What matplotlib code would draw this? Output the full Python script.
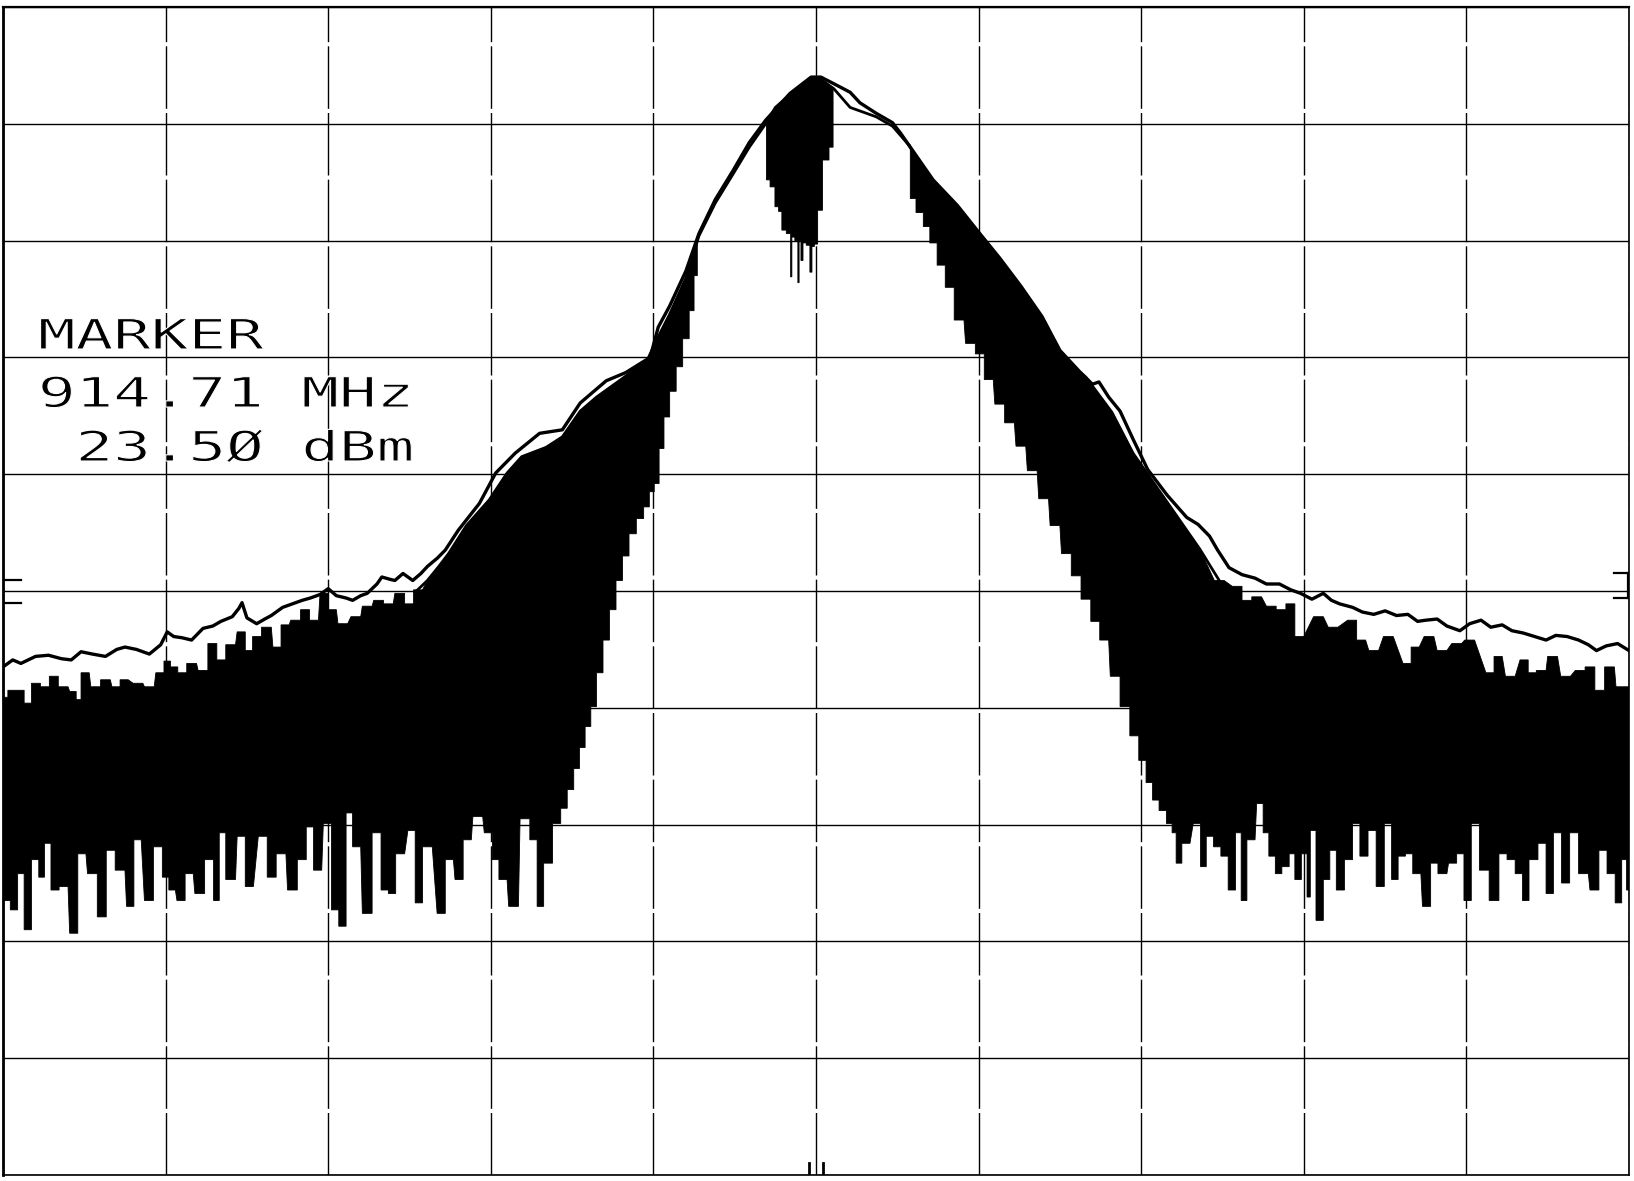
import numpy as np
import matplotlib
matplotlib.use("Agg")
import matplotlib.pyplot as plt
from matplotlib import patheffects
from matplotlib.transforms import Affine2D

# frequency axis is offset from the centre, in MHz (1 MHz / div); level in dBm (10 dB / div)
REF_LEVEL = 30
BOTTOM_LEVEL = -70
HALF_SPAN = 5

# max-hold trace
MAXHOLD_F = [-5.00, -4.94, -4.89, -4.80, -4.72, -4.64, -4.58, -4.52, -4.45, -4.37,
             -4.30, -4.25, -4.18, -4.10, -4.03, -3.99, -3.95, -3.90, -3.84, -3.77,
             -3.71, -3.66, -3.59, -3.55, -3.53, -3.50, -3.44, -3.39, -3.35, -3.28,
             -3.22, -3.16, -3.11, -3.05, -3.00, -2.95, -2.89, -2.85, -2.80, -2.76,
             -2.70, -2.67, -2.62, -2.59, -2.54, -2.48, -2.43, -2.39, -2.33, -2.28,
             -2.20, -2.07, -1.97, -1.85, -1.70, -1.56, -1.45, -1.29, -1.17, -1.02,
             -0.97, -0.90, -0.80, -0.72, -0.62, -0.51, -0.41, -0.31, -0.16, -0.03,
             0.03, 0.10, 0.21, 0.27, 0.37, 0.47, 0.52, 0.57, 0.72, 0.87,
             0.99, 1.13, 1.26, 1.39, 1.50, 1.62, 1.70, 1.74, 1.80, 1.87,
             1.95, 2.04, 2.16, 2.28, 2.35, 2.42, 2.47, 2.54, 2.62, 2.70,
             2.77, 2.85, 2.92, 2.98, 3.05, 3.12, 3.17, 3.22, 3.30, 3.36,
             3.43, 3.50, 3.57, 3.64, 3.70, 3.75, 3.82, 3.88, 3.96, 4.02,
             4.09, 4.15, 4.22, 4.28, 4.35, 4.42, 4.49, 4.55, 4.62, 4.69,
             4.75, 4.80, 4.86, 4.93, 5.00]
MAXHOLD_DBM = [-26.5, -25.9, -26.2, -25.6, -25.5, -25.8, -25.9, -25.2, -25.4, -25.6,
               -25.0, -24.8, -25.0, -25.4, -24.6, -23.5, -23.9, -24.0, -24.2, -23.2,
               -23.0, -22.6, -22.2, -21.5, -21.0, -22.3, -22.8, -22.4, -22.1, -21.4,
               -21.1, -20.8, -20.6, -20.3, -19.8, -20.4, -20.6, -20.8, -20.4, -20.2,
               -19.4, -18.8, -19.0, -19.1, -18.5, -19.1, -18.5, -17.9, -17.2, -16.5,
               -14.8, -12.5, -9.9, -8.2, -6.5, -6.2, -3.9, -2.0, -1.3, 0.0,
               2.6, 4.4, 7.4, 10.6, 13.5, 16.0, 18.4, 20.3, 22.6, 24.0,
               24.0, 23.5, 22.7, 21.8, 20.9, 20.1, 19.2, 18.2, 15.2, 13.0,
               10.9, 8.5, 6.1, 3.5, 0.6, -1.2, -2.3, -2.1, -3.4, -4.6,
               -7.0, -9.6, -11.8, -13.7, -14.3, -15.3, -16.5, -18.0, -18.6, -18.9,
               -19.4, -19.4, -19.9, -20.2, -20.7, -20.2, -20.8, -21.1, -21.4, -21.8,
               -22.0, -21.7, -22.1, -22.0, -22.6, -22.5, -22.4, -23.0, -23.4, -22.8,
               -22.5, -23.1, -22.9, -23.4, -23.6, -23.9, -24.2, -23.8, -23.9, -24.2,
               -24.6, -25.1, -24.7, -24.5, -25.1]

# upper edge of the swept (filled) trace
SWEEP_TOP_F = [-5.00, -4.94, -4.89, -4.85, -4.80, -4.74, -4.69, -4.63, -4.56, -4.54,
               -4.50, -4.43, -4.37, -4.30, -4.26, -4.17, -4.10, -4.03, -3.99, -3.95,
               -3.90, -3.84, -3.77, -3.71, -3.66, -3.60, -3.53, -3.49, -3.44, -3.38,
               -3.31, -3.27, -3.20, -3.14, -3.09, -3.02, -2.98, -2.91, -2.83, -2.76,
               -2.69, -2.63, -2.56, -2.50, -2.45, -2.39, -2.32, -2.26, -2.15, -2.01,
               -1.90, -1.81, -1.66, -1.56, -1.45, -1.35, -1.21, -1.04, -0.98, -0.90,
               -0.80, -0.72, -0.62, -0.51, -0.41, -0.305, -0.25, -0.16, -0.08, -0.03,
               0.03, 0.08, 0.11, 0.21, 0.27, 0.37, 0.47, 0.57, 0.72, 0.87,
               0.99, 1.13, 1.26, 1.39, 1.50, 1.58, 1.66, 1.82, 1.95, 2.11,
               2.28, 2.36, 2.48, 2.59, 2.65, 2.71, 2.80, 2.86, 2.92, 2.97,
               3.09, 3.18, 3.30, 3.35, 3.43, 3.52, 3.64, 3.68, 3.77, 3.85,
               3.94, 4.02, 4.15, 4.19, 4.27, 4.36, 4.40, 4.46, 4.53, 4.61,
               4.70, 4.76, 4.82, 4.88, 4.95, 5.00]
SWEEP_TOP_DBM = [-29.1, -28.5, -28.5, -29.6, -27.9, -28.2, -27.3, -28.2, -28.6, -29.3,
                 -27.0, -28.2, -27.6, -28.2, -27.6, -27.9, -28.2, -27.0, -26.0, -26.5,
                 -27.0, -26.2, -26.8, -24.5, -25.9, -24.6, -23.5, -25.1, -23.9, -23.1,
                 -24.8, -22.9, -22.5, -21.6, -22.5, -20.2, -21.6, -22.8, -22.2, -21.3,
                 -20.8, -21.1, -20.2, -21.1, -19.9, -19.1, -17.9, -16.8, -14.4, -12.2,
                 -9.9, -8.5, -7.7, -6.8, -4.6, -3.4, -2.0, -0.3, 1.5, 3.7,
                 6.8, 10.4, 13.2, 15.7, 18.0, 20.1, 21.4, 22.5, 23.4, 23.8,
                 23.8, 23.3, 23.0, 21.4, 21.1, 20.6, 19.8, 18.2, 15.0, 12.8,
                 10.7, 8.3, 5.9, 3.3, 0.4, -0.8, -1.7, -4.7, -8.2, -11.4,
                 -14.8, -16.4, -19.1, -19.6, -20.8, -20.5, -21.3, -21.6, -21.1, -23.9,
                 -22.2, -23.1, -22.5, -24.2, -25.1, -23.9, -26.2, -24.8, -23.9, -25.1,
                 -24.5, -24.2, -27.0, -25.6, -27.3, -25.9, -27.0, -26.8, -25.6, -27.3,
                 -26.8, -26.5, -28.5, -26.5, -28.2, -28.2]

# lower edge of the swept trace, left skirt
LEFT_FLOOR_F = [-5.00, -4.98, -4.93, -4.89, -4.85, -4.80, -4.76, -4.73, -4.68, -4.63,
                -4.56, -4.52, -4.45, -4.39, -4.34, -4.28, -4.21, -4.18, -4.10, -4.05,
                -3.99, -3.97, -3.90, -3.86, -3.79, -3.73, -3.68, -3.66, -3.60, -3.53,
                -3.49, -3.40, -3.35, -3.29, -3.22, -3.16, -3.11, -3.07, -3.00, -2.96,
                -2.91, -2.87, -2.83, -2.76, -2.70, -2.65, -2.61, -2.56, -2.48, -2.45,
                -2.39, -2.30, -2.26, -2.19, -2.15, -2.08, -2.01, -1.97, -1.93, -1.86,
                -1.79, -1.73, -1.70, -1.65, -1.59, -1.55, -1.51, -1.47, -1.44, -1.40,
                -1.37, -1.33, -1.29, -1.25, -1.21, -1.17, -1.13, -1.08, -1.04, -1.01,
                -0.98, -0.95, -0.92, -0.88, -0.84, -0.80, -0.76, -0.74, -0.72]
LEFT_FLOOR_DBM = [-43.6, -46.5, -47.3, -44.2, -49.0, -43.0, -44.5, -41.6, -45.6, -45.3,
                  -49.3, -42.5, -44.2, -47.9, -42.2, -43.9, -47.0, -41.3, -46.5, -41.9,
                  -44.5, -45.6, -46.5, -44.2, -45.9, -43.0, -46.5, -40.7, -44.7, -41.0,
                  -45.3, -41.0, -44.5, -42.5, -45.6, -43.0, -40.2, -43.9, -39.9, -47.3,
                  -48.7, -39.0, -41.9, -47.6, -40.7, -45.6, -45.9, -42.5, -40.5, -46.7,
                  -41.9, -47.6, -43.0, -44.7, -41.3, -39.3, -40.7, -43.0, -44.7, -47.0,
                  -39.5, -41.3, -47.0, -43.3, -39.9, -38.6, -37.0, -35.2, -33.4, -31.6,
                  -29.9, -27.0, -24.2, -21.6, -19.1, -17.0, -15.1, -13.8, -12.8, -11.5,
                  -10.8, -7.8, -5.1, -2.9, -0.8, 1.6, 4.0, 7.0, 10.4]

# lower edge of the narrow block under the carrier
CENTRE_FLOOR_F = [-0.305, -0.305, -0.26, -0.245, -0.215, -0.205, -0.16, -0.152, -0.145, -0.115,
                  -0.108, -0.100, -0.085, -0.075, -0.045, -0.030, -0.020, 0.0, 0.02, 0.06,
                  0.10, 0.11]
CENTRE_FLOOR_DBM = [20.1, 15.2, 14.6, 12.9, 12.5, 10.9, 10.6, 6.9, 10.3, 10.0,
                    6.4, 10.0, 8.3, 9.8, 9.6, 7.3, 9.5, 9.7, 12.6, 16.9,
                    18.0, 23.0]

# lower edge of the swept trace, right skirt
RIGHT_FLOOR_F = [0.57, 0.59, 0.64, 0.68, 0.72, 0.77, 0.82, 0.88, 0.95, 1.01,
                 1.06, 1.13, 1.19, 1.26, 1.33, 1.40, 1.47, 1.54, 1.60, 1.66,
                 1.72, 1.77, 1.84, 1.90, 1.96, 2.01, 2.05, 2.09, 2.13, 2.18,
                 2.20, 2.23, 2.27, 2.35, 2.38, 2.42, 2.47, 2.51, 2.56, 2.60,
                 2.63, 2.67, 2.74, 2.76, 2.81, 2.84, 2.89, 2.93, 2.96, 3.01,
                 3.03, 3.05, 3.10, 3.14, 3.18, 3.22, 3.28, 3.32, 3.37, 3.42,
                 3.47, 3.52, 3.56, 3.60, 3.65, 3.69, 3.76, 3.80, 3.85, 3.92,
                 3.96, 4.01, 4.05, 4.11, 4.17, 4.23, 4.27, 4.33, 4.36, 4.41,
                 4.47, 4.51, 4.56, 4.61, 4.66, 4.72, 4.79, 4.84, 4.89, 4.94,
                 4.97, 5.00]
RIGHT_FLOOR_DBM = [18.2, 13.6, 12.4, 11.2, 9.8, 7.9, 6.0, 3.2, 1.2, 0.3,
                   -1.9, -4.0, -5.6, -7.6, -9.7, -12.1, -14.4, -16.8, -18.7, -20.7,
                   -22.6, -24.2, -27.3, -29.9, -32.4, -34.5, -36.4, -37.9, -38.8, -39.9,
                   -40.7, -43.3, -41.6, -39.9, -43.6, -41.0, -41.9, -42.7, -45.6, -40.7,
                   -46.5, -41.3, -38.2, -40.7, -42.7, -44.2, -43.6, -42.5, -44.7, -42.5,
                   -46.2, -40.5, -48.2, -44.7, -42.2, -45.6, -43.0, -39.9, -42.7, -40.5,
                   -45.3, -39.9, -44.7, -42.7, -42.5, -44.2, -47.0, -43.3, -44.2, -43.3,
                   -42.5, -46.5, -39.9, -43.9, -46.5, -42.5, -43.0, -44.2, -46.5, -43.0,
                   -41.6, -45.9, -40.7, -45.0, -40.7, -44.2, -45.6, -42.2, -44.2, -46.7,
                   -43.0, -45.6]

MARKER_LINES = ["MARKER", "914.71 MHz", " 23.5\u00d8 dBm"]


class HStretch(patheffects.AbstractPathEffect):
    """Widen glyphs about the text origin and trim the stroke weight (pen-plotter lettering)."""

    def __init__(self, sx, trim=1.0):
        super().__init__()
        self._sx = sx
        self._trim = trim

    def draw_path(self, renderer, gc, tpath, affine, rgbFace=None):
        affine = Affine2D().scale(self._sx, 1.0) + affine
        renderer.draw_path(gc, tpath, affine, rgbFace)
        gc0 = renderer.new_gc()
        gc0.copy_properties(gc)
        gc0.set_foreground("white")
        gc0.set_linewidth(self._trim)
        renderer.draw_path(gc0, tpath, affine, None)
        gc0.restore()


def comb(f, v, w=0.03, tail_only=False):
    # each reading held over a short plateau so the edges come out as vertical strokes
    f = np.asarray(f, float)
    v = np.asarray(v, float)
    half = np.minimum(np.diff(f) / 2, w)
    left = np.r_[0.0, half]
    right = np.r_[half, 0.0]
    if tail_only:
        flat = np.abs(f) < 2.45
        left[flat] = 0.0
        right[flat] = 0.0
    return np.column_stack([f - left, f + right]).ravel(), np.repeat(v, 2)


def region(lo, hi, floor_f, floor_v):
    top_f = np.asarray(SWEEP_TOP_F)
    top_v = np.asarray(SWEEP_TOP_DBM)
    m = (top_f >= lo - 1e-9) & (top_f <= hi + 1e-9)
    tf, tv = comb(top_f[m], top_v[m], w=0.03, tail_only=True)
    bf, bv = comb(floor_f, floor_v)
    return np.r_[tf, bf[::-1]], np.r_[tv, bv[::-1]]


fig = plt.figure(figsize=(16.34, 11.81), dpi=100)
ax = fig.add_axes([3 / 1634, 6 / 1181, 1626 / 1634, 1168 / 1181])
ax.set_xlim(-HALF_SPAN, HALF_SPAN)
ax.set_ylim(BOTTOM_LEVEL, REF_LEVEL)

# graticule
ax.set_xticks(np.arange(-HALF_SPAN, HALF_SPAN + 1, 1))
ax.set_yticks(np.arange(BOTTOM_LEVEL, REF_LEVEL + 1, 10))
ax.tick_params(length=0, labelbottom=False, labelleft=False)
ax.grid(axis="x", color="black", lw=1.0, ls=(0, (45, 3)), zorder=0)
ax.grid(axis="y", color="black", lw=1.0, ls="-", zorder=0)
ax.set_axisbelow(True)
for side, sp in ax.spines.items():
    sp.set_linewidth(1.2)
ax.spines["left"].set_linewidth(2.0)
ax.spines["top"].set_linewidth(1.6)

# swept trace, filled between its upper and lower edges
for lo, hi, ff, fv in [(-HALF_SPAN, LEFT_FLOOR_F[-1], LEFT_FLOOR_F, LEFT_FLOOR_DBM),
                       (CENTRE_FLOOR_F[0], CENTRE_FLOOR_F[-1], CENTRE_FLOOR_F, CENTRE_FLOOR_DBM),
                       (RIGHT_FLOOR_F[0], HALF_SPAN, RIGHT_FLOOR_F, RIGHT_FLOOR_DBM)]:
    xs, ys = region(lo, hi, ff, fv)
    ax.fill(xs, ys, color="black", lw=0.6, zorder=2)
mid = np.abs(np.asarray(SWEEP_TOP_F)) < 2.5
ax.plot(np.asarray(SWEEP_TOP_F)[mid], np.asarray(SWEEP_TOP_DBM)[mid], color="black",
        lw=2.0, zorder=3, solid_joinstyle="round")

# max hold
ax.plot(MAXHOLD_F, MAXHOLD_DBM, color="black", lw=2.4, zorder=4,
        solid_joinstyle="round")

# reference marks at the screen edges and marker ticks at the bottom
for lvl in (-19.1, -21.0):
    ax.plot([-HALF_SPAN, -4.89], [lvl, lvl], color="black", lw=1.6, zorder=5)
for lvl in (-18.5, -20.6):
    ax.plot([4.91, HALF_SPAN], [lvl, lvl], color="black", lw=1.6, zorder=5)
ax.plot([4.995, 4.995], [-18.5, -20.6], color="black", lw=1.6, zorder=5)
for f in (-0.04, 0.04):
    ax.plot([f, f], [BOTTOM_LEVEL, BOTTOM_LEVEL + 1.0], color="black", lw=2.0, zorder=5)

# marker readout
baselines = [0.7072, 0.6575, 0.6113]
for line, yb in zip(MARKER_LINES, baselines):
    ax.text(0.0215, yb, line, transform=ax.transAxes, ha="left", va="baseline",
            fontsize=30, family="DejaVu Sans Mono", color="black", zorder=6,
            path_effects=[HStretch(1.50, trim=0.8)])

fig.savefig("out.png", dpi=100, facecolor="white")
